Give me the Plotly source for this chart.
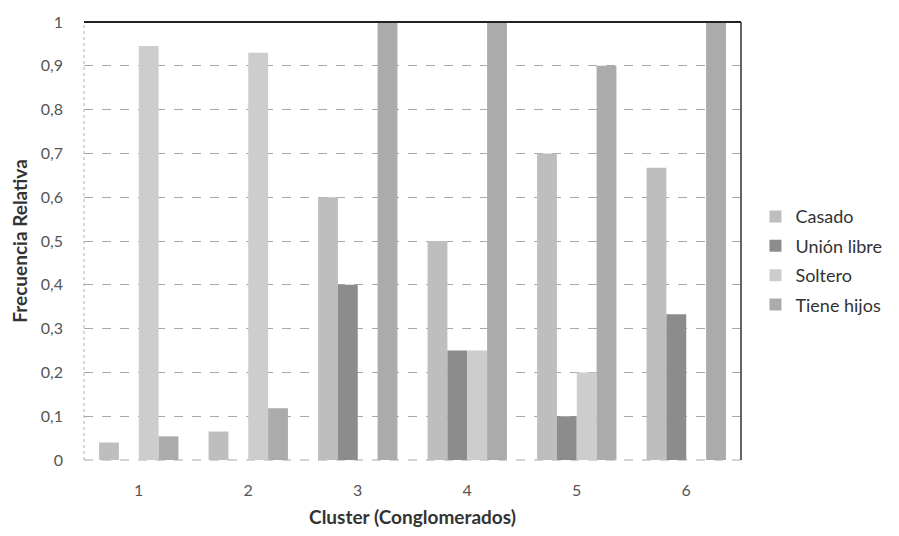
import plotly.graph_objects as go

clusters = ["1", "2", "3", "4", "5", "6"]
casado = [0.04, 0.065, 0.6, 0.5, 0.7, 0.667]
union_libre = [0.0, 0.0, 0.4, 0.25, 0.1, 0.333]
soltero = [0.945, 0.93, 0.0, 0.25, 0.2, 0.0]
tiene_hijos = [0.054, 0.118, 1.0, 1.0, 0.9, 1.0]

y_ticks = [0, 0.1, 0.2, 0.3, 0.4, 0.5, 0.6, 0.7, 0.8, 0.9, 1.0]
y_tick_text = ["0", "0,1", "0,2", "0,3", "0,4", "0,5", "0,6", "0,7", "0,8", "0,9", "1"]

series = [
    ("Casado", casado, "#bebebe"),
    ("Unión libre", union_libre, "#8c8c8c"),
    ("Soltero", soltero, "#cdcdcd"),
    ("Tiene hijos", tiene_hijos, "#ababab"),
]

fig = go.Figure()
for i, (name, vals, color) in enumerate(series):
    fig.add_trace(go.Bar(
        x=clusters, y=vals, name=name,
        marker=dict(color=color, line=dict(width=0)),
        legendgroup=f"g{i}",
    ))

font_family = "Lato, Open Sans, sans-serif"

fig.update_layout(
    width=899, height=536,
    margin=dict(l=84, r=153, t=17, b=74),
    paper_bgcolor="white", plot_bgcolor="white",
    barmode="group", bargap=0.275, bargroupgap=0,
    font=dict(family=font_family, color="#444444"),
    legend=dict(
        x=1.022, xanchor="left", y=0.455, yanchor="middle",
        font=dict(size=18, color="#333333"),
        tracegroupgap=3, traceorder="grouped",
        itemwidth=30,
    ),
    xaxis=dict(
        type="category", showgrid=False, showline=False, ticks="",
        tickfont=dict(size=16, color="#555555"),
        ticklabelstandoff=19,
        title=dict(text="<b>Cluster (Conglomerados)</b>", font=dict(size=19, color="#333333"), standoff=12),
    ),
    yaxis=dict(
        range=[0, 1.0], tickvals=y_ticks, ticktext=y_tick_text,
        showgrid=True, gridcolor="#a8a8a8", griddash="dash", gridwidth=1,
        zeroline=False, showline=False, ticks="",
        tickfont=dict(size=16, color="#555555"),
        ticklabelstandoff=20,
        title=dict(text="<b>Frecuencia Relativa</b>", font=dict(size=19, color="#333333"), standoff=8),
    ),
)

# plot-area frame: solid dark top and right edges, dotted grey left, dashed grey base
fig.add_shape(type="line", xref="paper", yref="paper", x0=0, x1=1, y0=1, y1=1,
              line=dict(color="#222222", width=2))
fig.add_shape(type="line", xref="paper", yref="paper", x0=1, x1=1, y0=0, y1=1,
              line=dict(color="#333333", width=1.5))
fig.add_shape(type="line", xref="paper", yref="paper", x0=0, x1=0, y0=0, y1=1,
              line=dict(color="#b0b0b0", width=1, dash="dot"))
fig.add_shape(type="line", xref="paper", yref="paper", x0=0, x1=1, y0=0, y1=0,
              line=dict(color="#a8a8a8", width=1, dash="dash"), layer="below")

fig.write_html("out.html")
